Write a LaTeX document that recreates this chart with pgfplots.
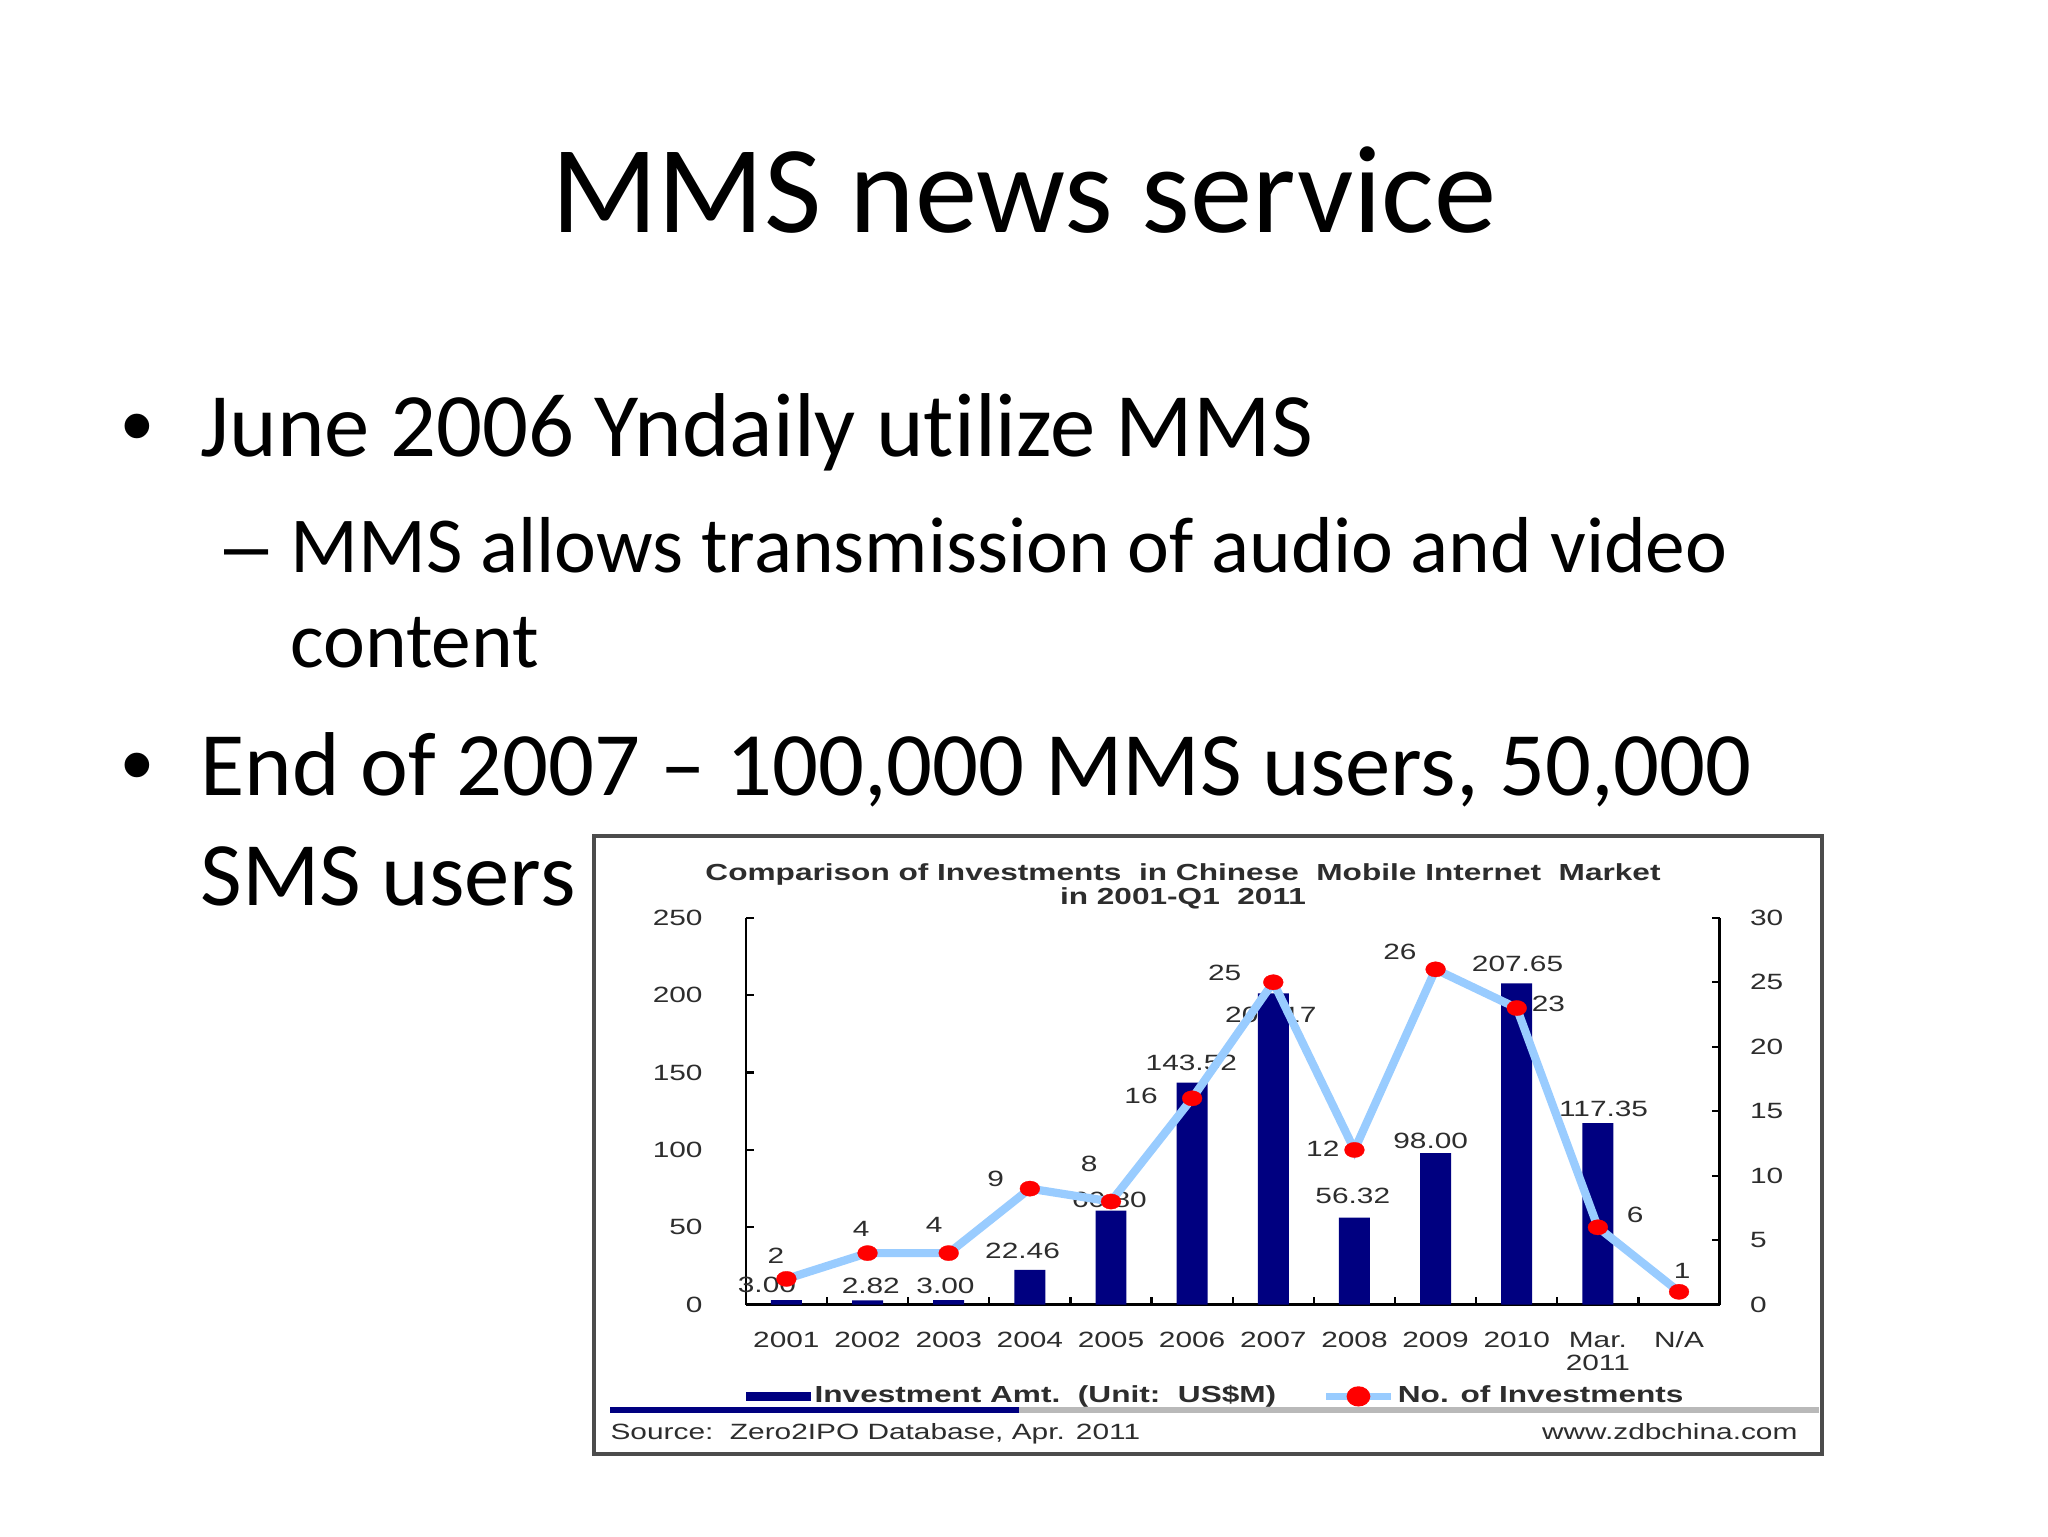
\documentclass[border=0pt]{standalone}
\usepackage{pgfplots}
\pgfplotsset{compat=1.18}
\usepackage{fontspec}
\usepackage{graphicx}
\setmainfont{Carlito}[Ligatures=NoCommon]
\newfontfamily\arial{Liberation Sans}
\definecolor{navy}{RGB}{0,0,128}
\definecolor{lblue}{RGB}{153,204,255}
\definecolor{ctext}{RGB}{45,45,45}
\newcommand\W[1]{\scalebox{1.35}[1]{\arial\fontsize{7.8}{8.6}\selectfont #1}}
\newcommand\WB[1]{\scalebox{1.36}[1]{\arial\bfseries\fontsize{8.2}{9}\selectfont #1}}
\newcommand\lab[3]{\node[text=ctext,inner sep=0] at (axis cs:#1,#2) {\W{#3}};}
\begin{document}
\begin{tikzpicture}
\begin{scope}[x=0.0124023cm,y=0.0124023cm]
\fill[white] (0,0) rectangle (2048,-1536);
\path[use as bounding box] (0,0) rectangle (2048,-1536);
% slide title
\node[anchor=base, inner sep=0, font=\fontsize{44}{50}\selectfont] at (1024,-232) {MMS news service};
% bullets
\node[anchor=base west, inner sep=0, font=\arial\fontsize{32}{38}\selectfont] at (121,-456) {•};
\node[anchor=base west, inner sep=0, font=\fontsize{32}{38}\selectfont] at (200,-456) {June 2006 Yndaily utilize MMS};
\node[anchor=base west, inner sep=0, font=\arial\fontsize{28}{34}\selectfont] at (224,-572) {–};
\node[anchor=base west, inner sep=0, font=\fontsize{28}{34}\selectfont] at (290,-572) {MMS allows transmission of audio and video};
\node[anchor=base west, inner sep=0, font=\fontsize{28}{34}\selectfont] at (290,-667) {content};
\node[anchor=base west, inner sep=0, font=\arial\fontsize{32}{38}\selectfont] at (121,-795) {•};
\node[anchor=base west, inner sep=0, font=\fontsize{32}{38}\selectfont] at (200,-795) {End of 2007 – 100,000 MMS users, 50,000};
\node[anchor=base west, inner sep=0, font=\fontsize{32}{38}\selectfont] at (200,-905) {SMS users};
% chart frame
\filldraw[fill=white, draw=gray!60!black, line width=1.2] (594,-836) rectangle (1822,-1454);
\node[anchor=base, inner sep=0, text=ctext] at (1183,-880) {\WB{Comparison of Investments~~in Chinese~~Mobile Internet~~Market}};
\node[anchor=base, inner sep=0, text=ctext] at (1183,-904) {\WB{in 2001-Q1~~2011}};
\fill[navy] (610,-1407) rectangle (1019,-1413);
\fill[gray!55] (1019,-1407) rectangle (1819,-1413);
\node[anchor=base west, inner sep=0, text=ctext] at (610,-1439) {\W{Source:~~Zero2IPO Database, Apr. 2011}};
\node[anchor=base east, inner sep=0, text=ctext] at (1798,-1439) {\W{www.zdbchina.com}};
\end{scope}

\begin{axis}[
  at={(9.2521cm,-16.185cm)}, anchor=south west,
  width=12.080cm, height=4.800cm, scale only axis,
  xmin=-0.5, xmax=11.5, ymin=0, ymax=250,
  axis x line*=bottom, axis y line*=left,
  axis line style={line width=0.9pt, black},
  tick style={line width=0.8pt, black},
  tick align=inside,
  major tick length=0cm, minor tick length=0.1cm,
  xtick={0,...,11},
  minor xtick={0.5,1.5,...,10.5},
  xticklabels={\W{2001},\W{2002},\W{2003},\W{2004},\W{2005},\W{2006},\W{2007},\W{2008},\W{2009},\W{2010},{\W{Mar.}\\\W{2011}},\W{N/A}},
  xticklabel style={align=center, anchor=north, inner sep=0, yshift=-0.33cm, text=ctext, font=\arial\fontsize{7.8}{8.4}\selectfont},
  ytick={0,50,...,250},
  minor ytick={0,50,...,250},
  yticklabels={\W{0},\W{50},\W{100},\W{150},\W{200},\W{250}},
  yticklabel style={anchor=east, inner sep=0, xshift=-0.53cm, text=ctext},
  clip=false,
]
\lab{-0.24}{12.9}{3.00}
\lab{1.04}{12.3}{2.82}
\lab{1.96}{12.3}{3.00}
\lab{2.91}{34.9}{22.46}
\lab{3.98}{67.8}{60.80}
\lab{4.99}{156.3}{143.52}
\lab{5.97}{187.3}{201.17}
\lab{6.98}{70.4}{56.32}
\lab{7.94}{105.9}{98.00}
\lab{9.01}{220.3}{207.65}
\lab{10.07}{126.6}{117.35}
\lab{-0.13}{31.7}{2}
\lab{0.92}{49.1}{4}
\lab{1.82}{51.7}{4}
\lab{2.58}{81.4}{9}
\lab{3.73}{91.1}{8}
\lab{4.37}{135}{16}
\lab{5.40}{214.5}{25}
\lab{6.61}{100.8}{12}
\lab{7.56}{228}{26}
\lab{9.39}{194.4}{23}
\lab{10.46}{58.1}{6}
\lab{11.04}{22}{1}
\addplot[ybar, bar width=0.3845cm, fill=navy, draw=none] coordinates {
(0,3.00)(1,2.82)(2,3.00)(3,22.46)(4,60.80)(5,143.52)(6,201.17)(7,56.32)(8,98.00)(9,207.65)(10,117.35)};
\end{axis}

\begin{axis}[
  at={(9.2521cm,-16.185cm)}, anchor=south west,
  width=12.080cm, height=4.800cm, scale only axis,
  xmin=-0.5, xmax=11.5, ymin=0, ymax=30,
  axis y line*=right, axis x line=none,
  axis line style={line width=0.9pt, black},
  tick style={line width=0.8pt, black},
  tick align=inside,
  major tick length=0cm, minor tick length=0.1cm,
  ytick={0,5,...,30},
  minor ytick={0,5,...,30},
  yticklabels={\W{0},\W{5},\W{10},\W{15},\W{20},\W{25},\W{30}},
  yticklabel style={anchor=west, inner sep=0, xshift=0.37cm, text=ctext},
  clip=false,
  legend columns=2,
  legend style={at={(axis description cs:0,-0.237)}, anchor=west, draw=none, fill=none, inner sep=0,
    nodes={inner sep=1.2pt, text=ctext},
    /tikz/every even column/.append style={column sep=0.53cm}},
]
\addlegendimage{legend image code/.code={\fill[navy] (0cm,-0.05cm) rectangle (0.79cm,0.05cm);}}
\addlegendentry{\WB{Investment Amt.~~(Unit:~~US\$M)}}
\addplot[lblue, line width=2.9pt, mark=*, mark size=2.7pt, mark options={draw=red, fill=red, line width=0.1pt, xscale=1.3},
  legend image code/.code={\draw[lblue, line width=2.7pt] (0cm,0cm) -- (0.80cm,0cm); \fill[red] (0.40cm,0cm) ellipse (2.7pt and 2.1pt);}]
coordinates {(0,2)(1,4)(2,4)(3,9)(4,8)(5,16)(6,25)(7,12)(8,26)(9,23)(10,6)(11,1)};
\addlegendentry{\WB{No. of Investments}}
\end{axis}
\end{tikzpicture}
\end{document}
